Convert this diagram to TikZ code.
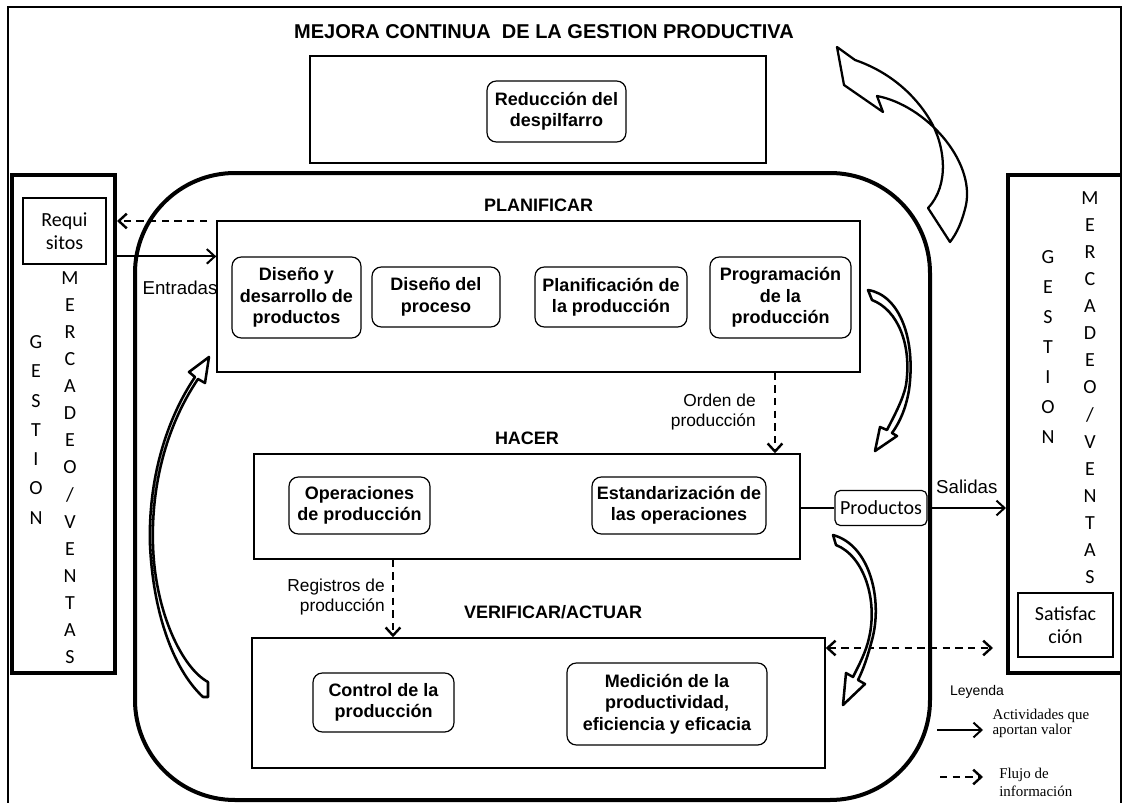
\documentclass[tikz,border=0pt]{standalone}
\usepackage{fontspec}
\setmainfont{Liberation Sans}
\newfontfamily\calibri{Carlito}
\newfontfamily\serifa{Liberation Serif}
\usepackage{tikz}
\usetikzlibrary{arrows.meta, positioning}
\newcommand{\px}{0.75pt}
\tikzset{
  actividad/.style={draw, rounded corners=7pt, line width=0.9pt, align=center, inner sep=1pt, font=\bfseries\fontsize{13.5}{16}\selectfont},
  fase/.style={draw, line width=1.1pt},
  etiqueta/.style={font=\bfseries\fontsize{13.5}{16}\selectfont},
  columna/.style={draw, line width=3pt},
  letra/.style={font=\calibri\fontsize{15}{15}\selectfont, inner sep=0pt},
  cuadro/.style={draw, line width=0.9pt, align=center, inner sep=1pt, font=\calibri\fontsize{15}{17.5}\selectfont},
  nota/.style={font=\fontsize{13}{15}\selectfont, align=right, inner sep=0pt},
  leyendatxt/.style={font=\serifa\fontsize{11.2}{11.5}\selectfont, align=left, inner sep=0pt},
  flujo/.style={->, line width=1.5pt},
  info/.style={->, line width=1.8pt, dash pattern=on 5.5pt off 4pt},
  flecha3d/.style={draw, fill=white, line width=1.7pt, line join=round},
  flechita/.style={draw, fill=white, line width=1.9pt, line join=round}
}
\begin{document}
\begin{tikzpicture}[x=0.75pt,y=-0.75pt,>={Straight Barb[length=6pt,width=11pt]}]
\useasboundingbox (0,0) rectangle (1122,803);
\clip (0,0) rectangle (1122,803);
\draw[line width=0.8pt] (8,810) -- (8,7) -- (1121,7) -- (1121,810);

\node[font=\bfseries\fontsize{15}{18}\selectfont] (titulo) at (544,32) {MEJORA CONTINUA \ DE LA GESTION PRODUCTIVA};
\node[draw, line width=2.2pt, minimum width=456*\px, minimum height=107*\px] (mejora) at (538,109.5) {};
\node[actividad, minimum width=139*\px, minimum height=61*\px] (reduccion) at (556.5,111.5) {Reducción del\\despilfarro};

\draw[line width=3pt, rounded corners=75pt] (135,173) rectangle (930,800);

\node[columna, minimum width=103*\px, minimum height=498*\px] (gestionizq) at (63.5,424) {};
\node[columna, minimum width=116*\px, minimum height=498*\px] (gestionder) at (1066,424) {};
\foreach \l [count=\i from 0] in {G,E,S,T,I,O,N}{
  \node[letra] (gi\i) at (36,{342+29.3*\i}) {\l};
  \node[letra] (gd\i) at (1048,{257+30*\i}) {\l};
}
\foreach \l [count=\i from 0] in {M,E,R,C,A,D,E,O,/,V,E,N,T,A,S}{
  \node[letra] (mi\i) at (70,{278+27.07*\i}) {\l};
  \node[letra] (md\i) at (1090,{198+27.07*\i}) {\l};
}
\node[cuadro, minimum width=83*\px, minimum height=66*\px] (requisitos) at (64.5,231) {Requi\\sitos};
\node[cuadro, minimum width=95*\px, minimum height=64*\px] (satisfaccion) at (1065.5,625) {Satisfac\\ción};

\node[fase, minimum width=643*\px, minimum height=151*\px] (planificar) at (538.5,296.5) {};
\node[fase, minimum width=546*\px, minimum height=105*\px] (hacer) at (527,506.5) {};
\node[fase, minimum width=573*\px, minimum height=130*\px] (verificar) at (538.5,703) {};
\node[etiqueta, above=2.6pt of planificar] (lplan) {PLANIFICAR};
\node[etiqueta, above=2.6pt of hacer] (lhacer) {HACER};
\node[etiqueta, above=10pt of verificar, xshift=11pt] (lverif) {VERIFICAR/ACTUAR};

\node[actividad, minimum width=129*\px, minimum height=81*\px] (disenoprod) at (296.5,297.5) {Diseño y\\desarrollo de\\productos};
\node[actividad, minimum width=128*\px, minimum height=60*\px] (disenoproc) at (436,297) {Diseño del\\proceso};
\node[actividad, minimum width=152*\px, minimum height=60*\px] (planprod) at (611,297) {Planificación de\\la producción};
\node[actividad, minimum width=141*\px, minimum height=81*\px] (program) at (780.5,297.5) {Programación\\de la\\producción};
\node[actividad, minimum width=141*\px, minimum height=57*\px] (operaciones) at (359.5,505.5) {Operaciones\\de producción};
\node[actividad, minimum width=174*\px, minimum height=57*\px] (estandar) at (679,505.5) {Estandarización de\\las operaciones};
\node[actividad, minimum width=141*\px, minimum height=59*\px] (control) at (383.5,702.5) {Control de la\\producción};
\node[actividad, minimum width=200*\px, minimum height=82*\px] (medicion) at (667,704) {Medición de la\\productividad,\\eficiencia y eficacia};
\node[cuadro, rounded corners=4pt, minimum width=92*\px, minimum height=35*\px] (productos) at (881,508) {Productos};

\draw[flujo] (gestionizq.east |- disenoprod.north) -- (planificar.west |- disenoprod.north);
\node[font=\fontsize{14}{16}\selectfont] (lent) at (180,288) {Entradas};
\coordinate (req) at (207,221);
\draw[info] (req) -- (gestionizq.east |- req);

\coordinate (orden) at (775,0);
\draw[info] (orden |- planificar.south) -- (orden |- hacer.north);
\node[nota, anchor=east] (lorden) at (756,412) {Orden de\\producción};
\coordinate (registro) at (393,0);
\draw[info] (registro |- hacer.south) -- (registro |- verificar.north);
\node[nota, anchor=east] (lregistro) at (385,597) {Registros de\\producción};

\draw[line width=1.5pt] (hacer.east |- productos.west) -- (productos.west);
\draw[flujo] (productos.east) -- (productos.east -| gestionder.west) node[midway, above=7pt, font=\fontsize{14}{16}\selectfont] (lsal) {Salidas};
\coordinate (finsat) at (993,648);
\draw[info, <->] (verificar.east |- finsat) -- (finsat);

\node[font=\fontsize{10.5}{12}\selectfont] (leyenda) at (977,692) {Leyenda};
\coordinate (va) at (937,730);
\coordinate (vb) at (983,730);
\coordinate (ia) at (940,777);
\coordinate (ib) at (983,777);
\draw[flujo] (va) -- (vb);
\draw[info] (ia) -- (ib);
\node[leyendatxt, right=7pt of vb, yshift=5pt] (lvalor) {Actividades que\\aportan valor};
\node[leyendatxt, font=\serifa\fontsize{11.2}{14}\selectfont, right=12pt of ib, yshift=-4pt] (lflujo) {Flujo de\\información};

\draw[flecha3d] (837,47) -- (844,85) -- (883,112) -- (877,96)
  .. controls (925,105) and (975,160) .. (966,205)
  .. controls (962,222) and (957,233) .. (950,242) -- (928,208)
  .. controls (950,185) and (945,145) .. (930,120)
  .. controls (915,95) and (890,72) .. (855,60) -- cycle;
\draw[flechita] (195,377) .. controls (166,420) and (148,480) .. (150,545)
  .. controls (153,610) and (172,668) .. (203,697) -- (208,697) -- (208,682)
  .. controls (182,668) and (155,612) .. (153,545)
  .. controls (151,480) and (169,422) .. (198,379) -- (205,383) -- (209,357) -- (189,372) -- cycle;
\draw[flechita] (868,290) .. controls (900,295) and (916,340) .. (909,390)
  .. controls (906,408) and (900,422) .. (892,433) -- (897,436) -- (875,451) -- (880,427) -- (887,430)
  .. controls (894,416) and (903,400) .. (906,385)
  .. controls (912,345) and (898,310) .. (872,300) -- cycle;
\draw[flechita] (833,535) .. controls (870,545) and (883,600) .. (872,640)
  .. controls (868,655) and (864,668) .. (858,680) -- (865,684) -- (843,705) -- (846,673) -- (853,677)
  .. controls (859,665) and (866,652) .. (869,638)
  .. controls (878,600) and (864,556) .. (836,545) -- cycle;
\end{tikzpicture}
\end{document}
